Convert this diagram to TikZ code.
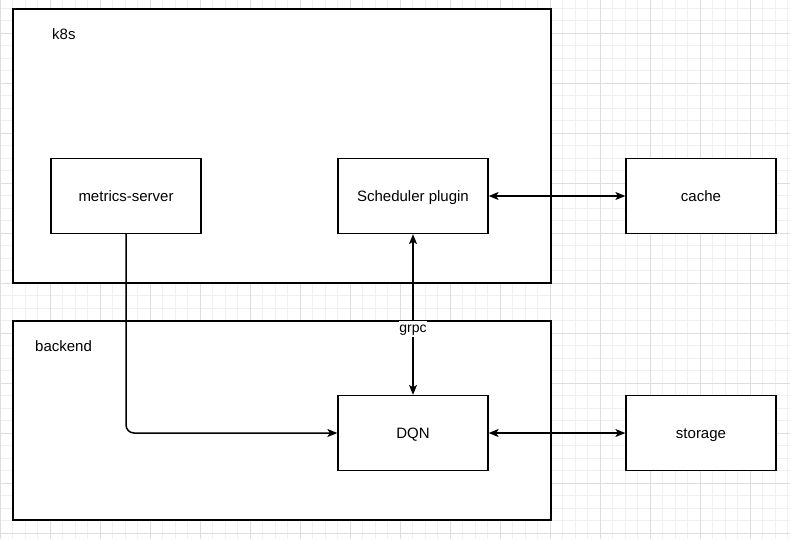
\documentclass[tikz,border=0pt]{standalone}
\usepackage{fontspec}
\setmainfont{Liberation Sans}
\usetikzlibrary{arrows.meta,positioning}

\definecolor{gridminor}{HTML}{F0F0F0}
\definecolor{gridmajor}{HTML}{DDDDDD}

\begin{document}
\begin{tikzpicture}[x=1pt,y=-1pt,on grid,
    box/.style={draw,line width=1.3pt,fill=white,minimum width=150pt,minimum height=75pt,
      text height=11pt,text depth=1pt,font=\fontsize{15}{18}\selectfont},
    frame/.style={draw,line width=1.3pt,fill=white,minimum width=538pt},
    tag/.style={anchor=base west,inner sep=0pt,font=\fontsize{15}{18}\selectfont},
    link/.style={line width=1.2pt,{Stealth[length=10pt,width=8pt,inset=2.5pt]}-{Stealth[length=10pt,width=8pt,inset=2.5pt]}}]
    \useasboundingbox (0,0) rectangle (790,539);
    \fill[white] (0,0) rectangle (790,539);
    % background grid
    \foreach \x in {0,12.5,...,790} \draw[gridminor,line width=1pt] (\x,0) -- (\x,539);
    \foreach \y in {-4.5,8,...,539} \draw[gridminor,line width=1pt] (0,\y) -- (790,\y);
    \foreach \x in {0,50,...,750} \draw[gridmajor,line width=1pt] (\x,0) -- (\x,539);
    \foreach \y in {33,83,...,533} \draw[gridmajor,line width=1pt] (0,\y) -- (790,\y);
    % containers
    \node[frame,minimum height=274pt] (k8s)     at (282,146)   {};
    \node[frame,minimum height=199pt] (backend) at (282,420.5) {};
    \node[tag] (k8s_tag)     at (52,39)  {k8s};
    \node[tag] (backend_tag) at (35,351) {backend};
    % boxes
    \node[box] (ms)                          at (126,196) {metrics-server};
    \node[box] (sp)      [right=287pt of ms]              {Scheduler plugin};
    \node[box] (cache)   [right=288pt of sp]              {cache};
    \node[box] (dqn)     [below=237pt of sp]              {DQN};
    \node[box] (storage) [right=288pt of dqn]             {storage};
    % connectors
    \draw[line width=1.5pt,-{Stealth[length=10pt,width=8pt,inset=2.5pt]},rounded corners=8pt]
      (ms) |- (dqn);
    \path[link]
    (sp)  edge (cache)
    (dqn) edge (storage)
    (sp)  edge node[pos=0.589,fill=white,inner xsep=0.5pt,inner ysep=1.5pt,
                    text height=10.5pt,text depth=2.5pt,
                    font=\fontsize{14}{16}\selectfont] (grpc) {grpc} (dqn);
\end{tikzpicture}
\end{document}
